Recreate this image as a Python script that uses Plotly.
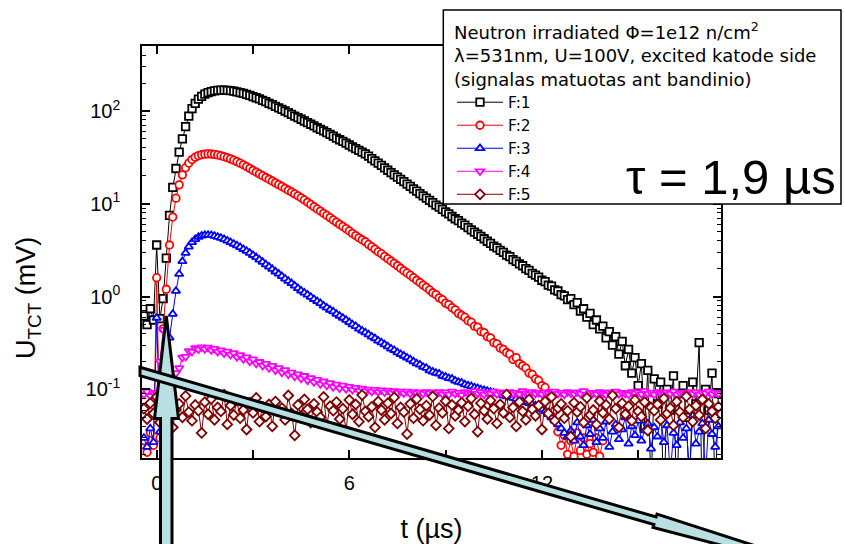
import plotly.graph_objects as go

# ---------------- data ----------------
T_START, T_STEP, N_PTS = -0.4, 0.1, 180          # time grid in µs
t_us = [round(T_START + T_STEP * i, 1) for i in range(N_PTS)]

F1 = [0.62, 0.50, 0.74, 0.56,
      3.6,
      0.58, 0.95, 2.6, 7.5, 15, 24, 36, 50, 68, 88, 106, 121, 134, 144, 152, 158, 162, 165, 167, 168,
      168, 167, 166, 164, 161, 158, 155, 151, 147, 143,
      139, 135, 130, 126, 121, 117, 112, 108, 104, 100, 96, 92, 88, 85, 81.5,
      78, 75, 72, 69, 66, 63.5, 61, 58.5, 56, 53.5, 51, 49, 47, 45, 43, 41, 39.3, 37.6, 36, 34.5,
      32.6, 30.7, 29, 27.4, 25.9, 24.4, 23, 21.7, 20.5, 19.4, 18.3, 17.3, 16.3, 15.4, 14.5, 13.7, 12.9,
      12.2, 11.5, 10.9, 10.3,
      9.7, 9.2, 8.7, 8.2, 7.8, 7.3, 6.9, 6.6, 6.2, 5.9, 5.55, 5.25, 4.95, 4.7, 4.45, 4.2, 3.95, 3.75,
      3.5, 3.35, 3.15,
      3.0, 2.8, 2.7, 2.5, 2.4, 2.25, 2.15, 2.0, 1.92, 1.78, 1.7, 1.62, 1.5, 1.45, 1.33, 1.3, 1.18, 1.15,
      1.05, 1.02, 0.93,
      0.95, 0.82, 0.86, 0.70, 0.74, 0.60, 0.66, 0.50, 0.56, 0.45,
      0.48, 0.36, 0.42, 0.30, 0.37, 0.24, 0.33, 0.18, 0.27, 0.15,
      0.22, 0.11, 0.19, 0.04, 0.16, 0.008, 0.13, 0.07, 0.12, 0.005,
      0.10, 0.06, 0.14, 0.006, 0.09, 0.11, 0.05, 0.008, 0.12, 0.07,
      0.32, 0.005, 0.10, 0.06, 0.15, 0.007, 0.09]

F2 = [0.028, 0.021, 0.034, 0.025,
      1.6,
      0.03, 0.45, 1.2, 3.6, 7.2, 11.5, 16, 20.5, 24.5, 27.5, 30, 31.8, 33, 33.8, 34.3, 34.5, 34.4, 34.1,
      33.6, 33, 32.2, 31.4, 30.5, 29.5, 28.5, 27.4, 26.3, 25.2, 24.1, 23,
      22, 21, 20.1, 19.2, 18.4, 17.6, 16.8, 16.1, 15.4, 14.7, 14, 13.4, 12.8, 12.2, 11.6,
      11, 10.4, 9.85, 9.3, 8.8, 8.35, 7.9, 7.5, 7.1, 6.7, 6.35, 6.0, 5.7, 5.4, 5.1, 4.8, 4.55, 4.3, 4.1, 3.9,
      3.65, 3.45, 3.25, 3.05, 2.9, 2.72, 2.56, 2.42, 2.28, 2.15, 2.02, 1.9, 1.8, 1.7, 1.6, 1.5, 1.42,
      1.33, 1.26, 1.18, 1.1,
      1.05, 0.97, 0.93, 0.85, 0.82, 0.76, 0.72, 0.66, 0.63, 0.60, 0.55, 0.53, 0.48, 0.47, 0.42, 0.41,
      0.37, 0.36, 0.32, 0.31, 0.28,
      0.27, 0.25, 0.24, 0.21, 0.22, 0.19, 0.18, 0.17, 0.15, 0.145, 0.13, 0.125, 0.11, 0.105, 0.09,
      0.085, 0.06, 0.035, 0.025, 0.032, 0.02,
      0.028, 0.019, 0.034, 0.022, 0.03, 0.02, 0.026, 0.021, 0.03, 0.019, 0.028]

F3 = [0.03, 0.024, 0.038, 0.027,
      0.59,
      0.035, 0.1, 0.2, 0.36, 0.65, 1.15, 1.75, 2.4, 2.95, 3.45, 3.85, 4.15, 4.38, 4.52, 4.6, 4.62, 4.58,
      4.5, 4.4, 4.28, 4.15, 4.0, 3.85, 3.7, 3.55, 3.4, 3.25, 3.1, 2.95, 2.8,
      2.65, 2.5, 2.36, 2.22, 2.1, 1.98, 1.86, 1.76, 1.66, 1.56, 1.47, 1.39, 1.31, 1.23, 1.16,
      1.1, 1.05, 0.99, 0.94, 0.89, 0.85, 0.8, 0.76, 0.72, 0.69, 0.65, 0.62, 0.59, 0.56, 0.53, 0.5, 0.48,
      0.45, 0.43, 0.41,
      0.39, 0.37, 0.355, 0.335, 0.32, 0.305, 0.29, 0.275, 0.265, 0.25, 0.24, 0.23, 0.22, 0.21, 0.2, 0.19,
      0.185, 0.175, 0.17, 0.16, 0.155,
      0.15, 0.148, 0.14, 0.137, 0.132, 0.13, 0.124, 0.12, 0.118, 0.113, 0.11, 0.108, 0.105, 0.103, 0.1,
      0.098, 0.096, 0.094, 0.092, 0.09, 0.088,
      0.086, 0.084, 0.083, 0.081, 0.079, 0.077, 0.075, 0.073, 0.071, 0.069, 0.067, 0.064, 0.061, 0.058,
      0.054, 0.05, 0.046, 0.042, 0.038, 0.034, 0.031,
      0.036, 0.028, 0.044, 0.031, 0.025, 0.041, 0.033, 0.047, 0.027, 0.038,
      0.03, 0.045, 0.024, 0.035, 0.042, 0.029, 0.037, 0.05, 0.026, 0.04,
      0.032, 0.046, 0.028, 0.036, 0.043, 0.023, 0.039, 0.031, 0.048, 0.027,
      0.041, 0.012, 0.034, 0.025, 0.044, 0.03, 0.038, 0.013, 0.052, 0.026,
      0.035, 0.043, 0.012, 0.047, 0.033, 0.024, 0.04]

F4 = [0.088, 0.095, 0.085, 0.092,
      0.09,
      0.2, 0.44, 0.1, 0.085, 0.11, 0.15, 0.17, 0.22, 0.225, 0.26, 0.255, 0.28, 0.27, 0.285, 0.272, 0.282,
      0.265, 0.274, 0.255, 0.264, 0.245, 0.256, 0.236, 0.246, 0.224, 0.234, 0.212, 0.222, 0.2, 0.211,
      0.19, 0.198, 0.18, 0.189, 0.17, 0.18, 0.161, 0.17, 0.152, 0.162, 0.145, 0.152, 0.138, 0.146, 0.131,
      0.14, 0.125, 0.133, 0.12, 0.127, 0.114, 0.122, 0.11, 0.117, 0.106, 0.113, 0.103, 0.11, 0.101, 0.107,
      0.099, 0.104, 0.097, 0.102, 0.096,
      0.1, 0.095, 0.099, 0.094, 0.098, 0.093, 0.097, 0.092, 0.096, 0.092, 0.095, 0.091, 0.095, 0.09,
      0.094, 0.091, 0.093, 0.09, 0.094, 0.091, 0.093,
      0.091, 0.094, 0.089, 0.093, 0.088, 0.095, 0.09, 0.092, 0.087, 0.094,
      0.091, 0.089, 0.096, 0.09, 0.093, 0.088, 0.092, 0.09, 0.095, 0.089,
      0.093, 0.091, 0.087, 0.094, 0.09, 0.092, 0.089, 0.096, 0.091, 0.088,
      0.094, 0.09, 0.092, 0.089, 0.093, 0.091, 0.087, 0.095, 0.09, 0.092,
      0.088, 0.094, 0.091, 0.089, 0.093, 0.09, 0.096, 0.088, 0.092, 0.091,
      0.089, 0.094, 0.09, 0.087, 0.093, 0.091, 0.095, 0.089, 0.092, 0.09,
      0.088, 0.094, 0.091, 0.093, 0.089, 0.096, 0.09, 0.092, 0.088, 0.094,
      0.091, 0.089, 0.093, 0.09, 0.095, 0.088, 0.092, 0.091, 0.089, 0.094,
      0.09, 0.093, 0.088, 0.092, 0.091, 0.095, 0.089, 0.093, 0.09]

F5 = [0.062, 0.048, 0.071, 0.055, 0.083, 0.044, 0.066, 0.052, 0.075, 0.039, 0.061, 0.070, 0.050, 0.085, 0.057, 0.046, 0.068, 0.059, 0.034, 0.073,
      0.054, 0.079, 0.047, 0.064, 0.058, 0.088, 0.042, 0.067, 0.053, 0.076, 0.049, 0.060, 0.037, 0.072, 0.056, 0.081, 0.045, 0.065, 0.051, 0.069,
      0.040, 0.074, 0.058, 0.063, 0.047, 0.086, 0.055, 0.032, 0.068, 0.052, 0.078, 0.061, 0.044, 0.070, 0.057, 0.050, 0.083, 0.041, 0.066, 0.059,
      0.073, 0.048, 0.062, 0.036, 0.077, 0.054, 0.069, 0.045, 0.087, 0.058, 0.051, 0.065, 0.039, 0.074, 0.060, 0.047, 0.071, 0.055, 0.082, 0.043,
      0.064, 0.057, 0.033, 0.070, 0.049, 0.079, 0.061, 0.046, 0.067, 0.053, 0.084, 0.041, 0.063, 0.056, 0.075, 0.038, 0.068, 0.052, 0.060, 0.072,
      0.045, 0.066, 0.080, 0.054, 0.035, 0.071, 0.059, 0.048, 0.076, 0.062, 0.043, 0.069, 0.056, 0.088, 0.050, 0.064, 0.040, 0.073, 0.058, 0.047,
      0.078, 0.061, 0.052, 0.067, 0.037, 0.074, 0.055, 0.083, 0.046, 0.063, 0.070, 0.049, 0.059, 0.031, 0.072, 0.057, 0.065, 0.044, 0.081, 0.053,
      0.060, 0.042, 0.075, 0.056, 0.068, 0.048, 0.086, 0.062, 0.039, 0.071, 0.054, 0.066, 0.046, 0.077, 0.058, 0.051, 0.073, 0.036, 0.064, 0.059,
      0.069, 0.047, 0.080, 0.055, 0.063, 0.041, 0.074, 0.057, 0.050, 0.084, 0.061, 0.045, 0.067, 0.053, 0.078, 0.038, 0.070, 0.058, 0.049, 0.065]

SERIES_NAMES = ["F:1", "F:2", "F:3", "F:4", "F:5"]
X_TICKS = [0, 3, 6, 9, 12, 15]
X_TICKTEXT = ["0", "", "6", "", "12", ""]
Y_TICKS = [0.1, 1, 10, 100]
Y_TICKTEXT = ["10<sup>-1</sup>", "10<sup>0</sup>", "10<sup>1</sup>", "10<sup>2</sup>"]
Y_MINOR = [m * 10.0 ** e for e in range(-2, 3) for m in range(2, 10)]

LEGEND_TITLE = ("Neutron irradiated \u03a6=1e12 n/cm<sup>2</sup><br>"
                "\u03bb=531nm, U=100V, excited katode side<br>"
                "(signalas matuotas ant bandinio)")
TAU_TEXT = "\u03c4 = 1,9 \u00b5s"

# ---------------- styling ----------------
COLORS = ["#000000", "#ff0000", "#0000ff", "#ff00ff", "#800000"]
SYMBOLS = ["square", "circle", "triangle-up", "triangle-down", "diamond"]
FONT = "Liberation Sans, Arial, sans-serif"
LFONT = "DejaVu Sans, Liberation Sans, sans-serif"
W, H = 844, 544
ML, MR, MT, MB = 142, 123, 46, 86
PW, PH = W - ML - MR, H - MT - MB


def P(px, py):
    """pixel position -> paper coordinates"""
    return (px - ML) / PW, (H - MB - py) / PH


def path(points):
    s = ""
    for i, (px, py) in enumerate(points):
        x, y = P(px, py)
        s += ("M" if i == 0 else "L") + f"{x:.5f},{y:.5f} "
    return s + "Z"


fig = go.Figure()
for name, ys, col, sym in zip(SERIES_NAMES, [F1, F2, F3, F4, F5], COLORS, SYMBOLS):
    fig.add_trace(go.Scatter(
        x=t_us[:len(ys)], y=ys, name=name, mode="lines+markers",
        line=dict(color=col, width=1),
        marker=dict(symbol=sym, size=7.5, color="white", line=dict(color=col, width=1.8)),
    ))

axis_common = dict(showline=True, linecolor="black", linewidth=1.5, mirror="allticks",
                   ticks="inside", ticklen=8, tickwidth=1.5, tickcolor="black",
                   showgrid=False, zeroline=False,
                   tickfont=dict(family=FONT, size=20, color="black"))

fig.update_layout(
    width=W, height=H,
    margin=dict(l=ML, r=MR, t=MT, b=MB, autoexpand=False),
    paper_bgcolor="white", plot_bgcolor="white",
    font=dict(family=FONT, color="black"),
    xaxis=dict(range=[-0.458, 17.58], tickmode="array", tickvals=X_TICKS, ticktext=X_TICKTEXT,
               ticklabelstandoff=6,
               title=dict(text="t (\u00b5s)", font=dict(family=FONT, size=27), standoff=27),
               **axis_common),
    yaxis=dict(type="log", range=[-1.739, 2.7004], tickmode="array", tickvals=Y_TICKS,
               ticktext=Y_TICKTEXT, ticklabelstandoff=16,
               minor=dict(tickmode="array", tickvals=Y_MINOR, ticks="inside", ticklen=4,
                          tickwidth=1, tickcolor="black", showgrid=False),
               **axis_common),
    showlegend=True,
    legend=dict(x=P(452, 0)[0], y=P(0, 15.5)[1], xanchor="left", yanchor="top",
                bgcolor="rgba(0,0,0,0)", borderwidth=0,
                font=dict(family=LFONT, size=15.4, color="black"),
                title=dict(text=LEGEND_TITLE, side="top",
                           font=dict(family=LFONT, size=18, color="black")),
                itemwidth=46, tracegroupgap=0),
)

# legend frame (white box with black border, covering the plot frame)
x0, y0 = P(443.3, 10)
x1, y1 = P(841, 204)
shapes = [dict(type="rect", xref="paper", yref="paper", x0=x0, y0=y1, x1=x1, y1=y0,
               fillcolor="white", line=dict(color="black", width=1.5), layer="above")]

ARROW_FILL = "#b8dfe2"
# vertical arrow
v_pts = [(166.3, 316), (178.5, 418.5), (172, 418.5), (172, 570), (160.5, 570),
         (160.5, 418.5), (154.5, 418.5)]
shapes.append(dict(type="path", xref="paper", yref="paper", path=path(v_pts),
                   fillcolor=ARROW_FILL, line=dict(color="black", width=3), layer="above"))
# diagonal arrow
d_pts = [(140, 367.3), (656.1, 517.0), (657.0, 514.1), (885.4, 587.9),
         (653.0, 527.5), (653.9, 524.6), (140, 375.7)]
shapes.append(dict(type="path", xref="paper", yref="paper", path=path(d_pts),
                   fillcolor=ARROW_FILL, line=dict(color="black", width=3), layer="above"))
fig.update_layout(shapes=shapes)

ax, ay = P(28, 298)
tx, ty = P(731, 177)
fig.update_layout(annotations=[
    dict(text="U<sub>TCT</sub> (mV)", xref="paper", yref="paper", x=ax, y=ay, textangle=-90,
         showarrow=False, xanchor="center", yanchor="middle",
         font=dict(family=FONT, size=27, color="black")),
    dict(text=TAU_TEXT, xref="paper", yref="paper", x=tx, y=ty, showarrow=False,
         xanchor="center", yanchor="middle", font=dict(family=FONT, size=49, color="black")),
])

fig.write_html("out.html")
